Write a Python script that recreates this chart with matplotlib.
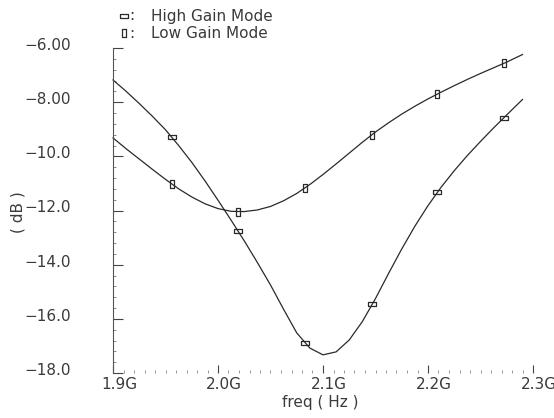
import numpy as np
import matplotlib.pyplot as plt
from matplotlib.lines import Line2D
from matplotlib.transforms import ScaledTranslation

# curve samples (freq in GHz, gain in dB)
freq = [1.9000, 1.9125, 1.9250, 1.9375, 1.9500, 1.9625, 1.9750, 1.9875,
        2.0000, 2.0125, 2.0250, 2.0375, 2.0500, 2.0625, 2.0750, 2.0875,
        2.1000, 2.1125, 2.1250, 2.1375, 2.1500, 2.1625, 2.1750, 2.1875,
        2.2000, 2.2125, 2.2250, 2.2375, 2.2500, 2.2625, 2.2750, 2.2900]
high_gain = [-7.18, -7.60, -8.05, -8.52, -9.02, -9.60, -10.22, -10.90,
             -11.62, -12.36, -13.12, -13.92, -14.75, -15.65, -16.52, -17.08,
             -17.33, -17.22, -16.78, -16.10, -15.25, -14.32, -13.42, -12.58,
             -11.82, -11.14, -10.53, -9.97, -9.45, -8.95, -8.47, -7.90]
low_gain = [-9.32, -9.72, -10.10, -10.48, -10.85, -11.20, -11.50, -11.75,
            -11.93, -12.03, -12.04, -11.98, -11.85, -11.64, -11.37, -11.04,
            -10.67, -10.28, -9.88, -9.48, -9.10, -8.76, -8.44, -8.15,
            -7.88, -7.63, -7.39, -7.16, -6.94, -6.73, -6.52, -6.24]

# marker positions
mark_freq = [1.956, 2.019, 2.083, 2.147, 2.209, 2.272]
high_mark = [-9.30, -12.76, -16.88, -15.45, -11.33, -8.59]
low_mark = [-11.02, -12.04, -11.16, -9.20, -7.70, -6.57]

yticks = [-18, -16, -14, -12, -10, -8, -6]
ytick_labels = ["\u221218.0", "\u221216.0", "\u221214.0", "\u221212.0",
                "\u221210.0", "\u22128.00", "\u22126.00"]
xticks = [1.9, 2.0, 2.1, 2.2, 2.3]
xtick_labels = ["1.9G", "2.0G", "2.1G", "2.2G", "2.3G"]

ink = "#2a2a2a"
txt = "#3a3a3a"
hmark = [(-1, -0.45), (1, -0.45), (1, 0.45), (-1, 0.45), (-1, -0.45)]
vmark = [(-0.45, -1), (0.45, -1), (0.45, 1), (-0.45, 1), (-0.45, -1)]

plt.rcParams['font.family'] = ['DejaVu Sans']
fig = plt.figure(figsize=(5.54, 4.18), dpi=100)
ax = fig.add_axes([113/554, 1 - 373/418, 420/554, 325/418])

ax.plot(freq, high_gain, color=ink, lw=0.9, clip_on=False)
ax.plot(freq, low_gain, color=ink, lw=0.9, clip_on=False)
ax.plot(mark_freq, high_mark, ls="none", marker=hmark, ms=5.5, mfc="none",
        mec=ink, mew=0.9)
ax.plot(mark_freq, low_mark, ls="none", marker=vmark, ms=5.5, mfc="none",
        mec=ink, mew=0.9)

ax.set_xlim(1.9, 2.3)
ax.set_ylim(-18, -6)
for s in ["top", "right", "bottom"]:
    ax.spines[s].set_visible(False)
ax.spines["left"].set_color("#555555")
ax.spines["left"].set_linewidth(0.8)
ax.spines["left"].set_linestyle((0, (1, 1)))

ax.set_yticks(yticks)
ax.set_yticklabels(ytick_labels)
ax.set_yticks(np.arange(-18, -5.9, 0.4), minor=True)
ax.set_xticks(xticks)
ax.set_xticklabels(xtick_labels)
ax.set_xticks(np.arange(1.9, 2.301, 0.01), minor=True)

ax.tick_params(axis="y", which="major", direction="in", length=7, width=0.8,
               color="#444444", pad=30, labelsize=11, labelcolor=txt)
ax.tick_params(axis="y", which="minor", direction="in", length=2.5, width=0.6,
               color="#777777")
ax.tick_params(axis="x", which="major", direction="in", length=6, width=0.8,
               color="#444444", pad=3, labelsize=11, labelcolor=txt)
ax.tick_params(axis="x", which="minor", direction="in", length=2.5, width=0.6,
               color="#888888")

for lab in ax.get_yticklabels():
    lab.set_transform(lab.get_transform() + ScaledTranslation(0, 4/100, fig.dpi_scale_trans))
for lab in ax.get_xticklabels():
    lab.set_transform(lab.get_transform() + ScaledTranslation(6/100, 0, fig.dpi_scale_trans))

fig.text(320/554, 1 - 402/418, "freq ( Hz )", ha="center", va="center",
         fontsize=11, color=txt)
fig.text(18/554, 1 - 212/418, "( dB )", ha="center", va="center",
         rotation=90, fontsize=11, color=txt)

# legend at the top
for y, mk, name in [(16, hmark, "High Gain Mode"), (33, vmark, "Low Gain Mode")]:
    fig.add_artist(Line2D([124/554], [1 - y/418], transform=fig.transFigure,
                          marker=mk, ms=5.5, mfc="none", mec=ink, mew=0.9, ls="none"))
    fig.text(129/554, 1 - y/418, ":", ha="left", va="center", fontsize=11, color=txt)
    fig.text(151/554, 1 - y/418, name, ha="left", va="center", fontsize=11, color=txt)

fig.savefig("out.png", dpi=100)
